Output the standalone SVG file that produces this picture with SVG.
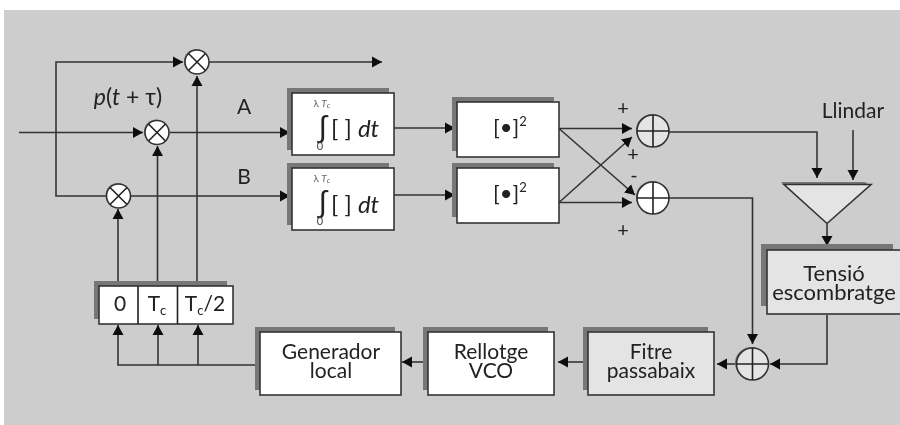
<svg xmlns="http://www.w3.org/2000/svg" width="900" height="425" viewBox="0 0 900 425">
<defs>
<marker id="a" markerUnits="userSpaceOnUse" markerWidth="11" markerHeight="12" refX="10" refY="6" orient="auto"><path d="M0 0.5L10 6L0 11.5Z" fill="#111"/></marker>
<filter id="b" x="-2%" y="-2%" width="104%" height="104%"><feGaussianBlur stdDeviation="0.45"/></filter>
</defs>
<style>
.l{fill:none;stroke:#333;stroke-width:1.6}
.s{fill:#777}
.w{fill:#fff;stroke:#333;stroke-width:1.6}
.g{fill:#e4e4e4;stroke:#333;stroke-width:1.6}
.c{stroke:#222;stroke-width:1.6}
text{font-family:Lato,"Open Sans","Liberation Sans",sans-serif;fill:#222;text-anchor:middle}
.t{font-size:21px}
.i{font-style:italic}
.p{font-size:20px}
</style>
<rect x="4" y="10" width="896" height="415" fill="#cdcdcd"/>
<g filter="url(#b)">
<g id="connectors">
<path class="l" d="M203 62H382" marker-end="url(#a)"/>
<path class="l" d="M118 196H56V62H183" marker-end="url(#a)"/>
<path class="l" d="M19 132.500H143" marker-end="url(#a)"/>
<path class="l" d="M170 132.500H290" marker-end="url(#a)"/>
<path class="l" d="M130 196H290" marker-end="url(#a)"/>
<path class="l" d="M197 286V76" marker-end="url(#a)"/>
<path class="l" d="M157.500 286V146" marker-end="url(#a)"/>
<path class="l" d="M118 286V209" marker-end="url(#a)"/>
<path class="l" d="M394 128H455" marker-end="url(#a)"/>
<path class="l" d="M394 195H455" marker-end="url(#a)"/>
<path class="l" d="M559 128.500H632" marker-end="url(#a)"/>
<path class="l" d="M559 202.500H632" marker-end="url(#a)"/>
<path class="l" d="M559 128.500L635 195" marker-end="url(#a)"/>
<path class="l" d="M559 202.500L632 137" marker-end="url(#a)"/>
<path class="l" d="M669 132H817V178" marker-end="url(#a)"/>
<path class="l" d="M853 130V180" marker-end="url(#a)"/>
<path class="l" d="M827 224V246" marker-end="url(#a)"/>
<path class="l" d="M669 198H752.500V344" marker-end="url(#a)"/>
<path class="l" d="M827 315V364H770" marker-end="url(#a)"/>
<path class="l" d="M736 364H717" marker-end="url(#a)"/>
<path class="l" d="M588 362H558" marker-end="url(#a)"/>
<path class="l" d="M428 362H402" marker-end="url(#a)"/>
<path class="l" d="M260 365H118V325" marker-end="url(#a)"/>
<path class="l" d="M158 365V325" marker-end="url(#a)"/>
<path class="l" d="M198 365V325" marker-end="url(#a)"/>
</g>
<g id="mult-top"><circle class="s" cx="196" cy="61" r="12"/><circle class="w" cx="197" cy="62" r="12"/><path class="c" d="M188.500 53.500L205.500 70.500M205.500 53.500L188.500 70.500"/></g>
<g id="mult-a"><circle class="s" cx="156" cy="131.500" r="12"/><circle class="w" cx="157" cy="132.500" r="12"/><path class="c" d="M148.500 124L165.500 141M165.500 124L148.500 141"/></g>
<g id="mult-b"><circle class="s" cx="117.500" cy="195" r="12"/><circle class="w" cx="118.500" cy="196" r="12"/><path class="c" d="M110 187.500L127 204.500M127 187.500L110 204.500"/></g>
<g id="int-a"><path class="s" d="M287 88H389V93H292V150H287Z"/><rect class="w" x="292" y="93" width="102" height="62"/>
<text x="322" y="107" style="font-size:10px;fill:#666"><tspan>λ</tspan><tspan class="i"> T</tspan><tspan class="i" font-size="8" dy="1">c</tspan></text>
<text x="322.500" y="137" style="font-size:30px;font-family:'Liberation Sans',sans-serif">∫</text>
<text x="320" y="150" style="font-size:11px;fill:#444">0</text>
<text x="355" y="137" style="font-size:24px">[ ] <tspan class="i">dt</tspan></text></g>
<g id="int-b"><path class="s" d="M287 163H389V168H292V225H287Z"/><rect class="w" x="292" y="168" width="102" height="62"/>
<text x="322" y="182" style="font-size:10px;fill:#666"><tspan>λ</tspan><tspan class="i"> T</tspan><tspan class="i" font-size="8" dy="1">c</tspan></text>
<text x="322.500" y="212" style="font-size:30px;font-family:'Liberation Sans',sans-serif">∫</text>
<text x="320" y="225" style="font-size:11px;fill:#444">0</text>
<text x="355" y="213" style="font-size:24px">[ ] <tspan class="i">dt</tspan></text></g>
<g id="sq-a"><path class="s" d="M452 97H554V102H457V151H452Z"/><rect class="w" x="457" y="102" width="102" height="55"/>
<text x="510" y="135" style="font-size:22px">[<tspan font-size="22" dy="0">•</tspan>]<tspan font-size="13" dy="-9">2</tspan></text></g>
<g id="sq-b"><path class="s" d="M452 163H554V168H457V217H452Z"/><rect class="w" x="457" y="168" width="102" height="55"/>
<text x="510" y="201" style="font-size:22px">[<tspan font-size="22" dy="0">•</tspan>]<tspan font-size="13" dy="-9">2</tspan></text></g>
<g id="sum-a"><circle class="s" cx="652" cy="130" r="16"/><circle class="g" cx="653" cy="131" r="16"/><path class="c" d="M637 131H669M653 115V147"/></g>
<g id="sum-b"><circle class="s" cx="652" cy="197" r="16"/><circle class="w" cx="653" cy="198" r="16"/><path class="c" d="M637 198H669M653 182V214"/></g>
<g id="sum-c"><circle class="s" cx="751" cy="363" r="16"/><circle class="g" cx="752.500" cy="364" r="16"/><path class="c" d="M736.500 364H768.500M752.500 348V380"/></g>
<g id="comparator"><path d="M781 182H865L868 184H783Z" fill="#777"/><path class="g" d="M784 184.500H871L827 223.500Z"/></g>
<g id="tensio"><path class="s" d="M761 244H893V250H767V306H761Z"/><rect class="g" x="767" y="250" width="140" height="64"/>
<text style="font-size:22px"><tspan x="834" y="281">Tensió</tspan><tspan x="834" y="300">escombratge</tspan></text></g>
<g id="delays"><path class="s" d="M94 281H227V286H99V319H94Z"/><rect class="w" x="99" y="286" width="134" height="38"/><path class="c" d="M138 286V324M177.500 286V324"/>
<text x="120" y="311" class="t">0</text>
<text x="157" y="311" class="t">T<tspan font-size="13" dy="4">c</tspan></text>
<text x="205" y="311" class="t">T<tspan font-size="13" dy="4">c</tspan><tspan dy="-4">/2</tspan></text></g>
<g id="generador"><path class="s" d="M255 327H395V332H260V390H255Z"/><rect class="w" x="260" y="332" width="141" height="63"/>
<text class="t"><tspan x="331" y="359">Generador</tspan><tspan x="331" y="378">local</tspan></text></g>
<g id="rellotge"><path class="s" d="M423 327H548V332H428V390H423Z"/><rect class="w" x="428" y="332" width="126" height="63"/>
<text class="t"><tspan x="491" y="359">Rellotge</tspan><tspan x="491" y="378">VCO</tspan></text></g>
<g id="fitre"><path class="s" d="M583 327H708V332H588V390H583Z"/><rect class="g" x="588" y="332" width="126" height="63"/>
<text class="t"><tspan x="651" y="359">Fitre</tspan><tspan x="651" y="378">passabaix</tspan></text></g>
<g id="labels">
<text x="128" y="105" class="i" style="font-size:23px">p<tspan font-style="normal">(</tspan>t<tspan font-style="normal"> + τ)</tspan></text>
<text x="244" y="114" class="t">A</text><text x="244" y="184" class="t">B</text>
<text x="623" y="114.500" class="p">+</text>
<text x="633" y="160.500" class="p">+</text>
<text x="634" y="182" class="p">-</text>
<text x="623" y="236.500" class="p">+</text>
<text x="853" y="118" class="t">Llindar</text>
</g>
</g>
</svg>
